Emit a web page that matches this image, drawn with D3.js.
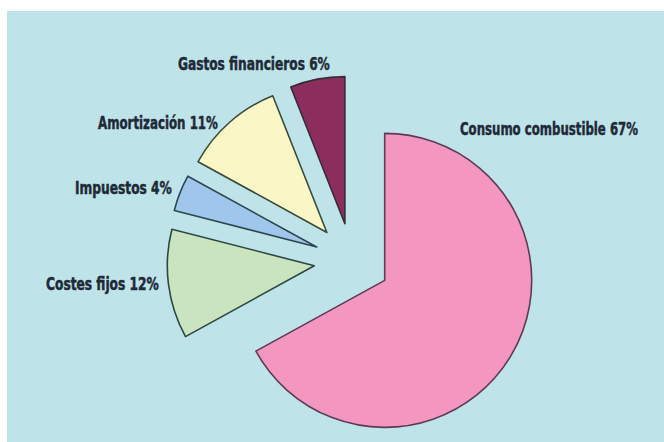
<!DOCTYPE html>
<html>
<head>
<meta charset="utf-8">
<script src="https://cdn.jsdelivr.net/npm/d3@7"></script>
<style>
  body { margin: 0; background: #fff; }
  svg { display: block; }
</style>
</head>
<body>
<svg width="664" height="442"></svg>
<script>
// data
const categories = ["Consumo combustible", "Costes fijos", "Impuestos", "Amortización", "Gastos financieros"]
const shares = [67, 12, 4, 11, 6]

// looks
const fills = ["#f497bf", "#c9e5c0", "#9fc6eb", "#fbf6c6", "#8c2e5d"]
const strokes = ["#5e3a58", "#2f4741", "#2f4650", "#3a4a3a", "#3a2a35"]
const labelPos = [[460, 135, 178], [46, 290, 113], [75, 194, 97], [98, 129, 120], [178, 70, 152]] // x, baseline, width

const svg = d3.select("svg")

svg.append("rect")
  .attr("x", 7).attr("y", 11)
  .attr("width", 657).attr("height", 431)
  .attr("fill", "#bee4ea")

const cx = 352, cy = 261
const radius = 147
const explode = 38

const pie = d3.pie().sort(null).value(d => d.value).startAngle(0).endAngle(2 * Math.PI)
const arc = d3.arc().innerRadius(0).outerRadius(radius)

const rows = categories.map((c, i) => ({name: c, value: shares[i], i: i}))
const slices = pie(rows)

let g = svg.append("g").attr("transform", `translate(${cx},${cy})`)

g.selectAll("path")
  .data(slices)
  .enter()
  .append("path")
  .attr("d", arc)
  .attr("transform", d => {
    let mid = (d.startAngle + d.endAngle) / 2
    return `translate(${Math.sin(mid) * explode},${-Math.cos(mid) * explode})`
  })
  .attr("fill", d => fills[d.data.i])
  .attr("stroke", d => strokes[d.data.i])
  .attr("stroke-width", 1.6)
  .attr("stroke-linejoin", "round")

// labels, squeezed to the narrow width of the original type
svg.selectAll("text.lbl")
  .data(rows)
  .enter()
  .append("text")
  .attr("class", "lbl")
  .attr("x", 0)
  .attr("y", 0)
  .attr("font-family", "'DejaVu Sans Condensed', 'DejaVu Sans', sans-serif")
  .attr("font-weight", "bold")
  .attr("font-size", "18px")
  .attr("fill", "#1f2a38")
  .attr("stroke", "#1f2a38")
  .attr("stroke-width", 0.5)
  .text(d => `${d.name} ${d.value}%`)
  .each(function(d) {
    let w = this.getComputedTextLength()
    let p = labelPos[d.i]
    d3.select(this).attr("transform", `translate(${p[0]},${p[1]}) scale(${p[2] / w},1)`)
  })
</script>
</body>
</html>
